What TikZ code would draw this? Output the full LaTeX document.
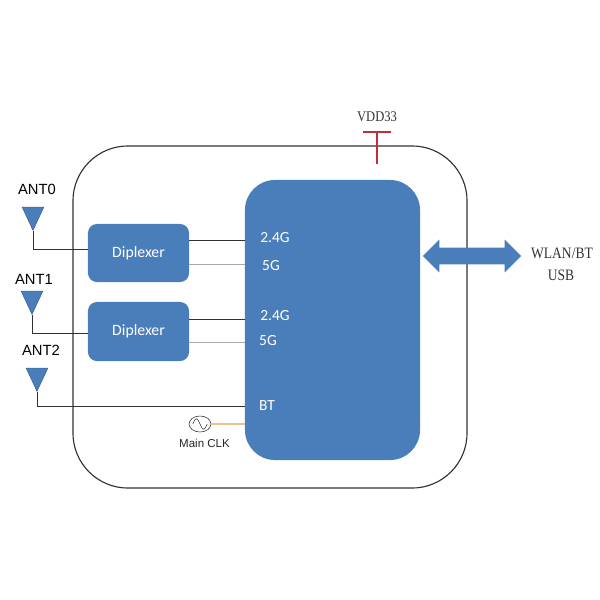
\documentclass[tikz,border=0pt]{standalone}
\usepackage{fontspec}
\setmainfont{Liberation Sans}
\newfontfamily\labelfont[FakeStretch=0.85]{Liberation Serif}
\newfontfamily\blockfont{Carlito}
\usetikzlibrary{positioning, shapes.geometric, shapes.arrows}
\definecolor{block}{RGB}{74,126,187}
\definecolor{wire}{RGB}{50,50,50}
\definecolor{softwire}{RGB}{170,170,170}
\definecolor{clkwire}{RGB}{232,196,140}
\definecolor{vddred}{RGB}{192,48,58}
\tikzset{
  bluebox/.style={rectangle, fill=block, text=white, font=\blockfont\fontsize{11.2}{13}\selectfont, inner sep=0pt},
  portlab/.style={text=white, font=\blockfont\fontsize{11}{12}\selectfont, inner sep=0pt},
  antenna/.style={isosceles triangle, isosceles triangle apex angle=50, shape border rotate=-90,
    fill=block, draw=block!80!black, thin, minimum height=0.58cm, inner sep=0pt, anchor=apex},
  antlab/.style={font=\fontsize{10.5}{12}\selectfont, inner sep=0pt},
  sidelab/.style={font=\labelfont\fontsize{10.5}{12}\selectfont, text=black!80, inner sep=0pt},
  bigside/.style={sidelab, font=\labelfont\fontsize{11.3}{12}\selectfont},
  feedwire/.style={wire, line width=0.7pt}
}
\begin{document}
\begin{tikzpicture}[x=0.025cm, y=-0.025cm]
  \useasboundingbox (0,0) rectangle (600,600);
  % module outline
  \node[draw=wire, thick, rounded corners=1.375cm, minimum width=9.85cm, minimum height=8.55cm, inner sep=0pt]
    (board) at (270,317) {};
  % chip and diplexers
  \node[bluebox, rounded corners=0.75cm, minimum width=4.375cm, minimum height=7cm] (chip) at (332.5,320) {};
  \node[bluebox, rounded corners=0.22cm, minimum width=2.525cm, minimum height=1.45cm] (dip0) at (138.5,253) {Diplexer};
  \node[bluebox, rounded corners=0.22cm, minimum width=2.525cm, minimum height=1.475cm] (dip1) at (138.5,331.5) {Diplexer};
  % antennas
  \foreach \i/\x/\y/\tx/\ty in {0/33/231/37/189, 1/32/315/34/279, 2/37/392/41/350} {
    \node[antenna] (ant\i) at (\x,\y) {};
    \node[antlab] (antlab\i) at (\tx,\ty) {ANT\i};
  }
  % antenna feeds
  \draw[feedwire] (ant0.apex) |- (88,249) coordinate (feed0);
  \draw[feedwire] (ant1.apex) |- (88,333) coordinate (feed1);
  \draw[feedwire] (ant2.apex) |- (245,406) coordinate (feed2);
  % diplexer outputs
  \foreach \n/\y/\c in {dip0/240/wire, dip0/264/softwire, dip1/319/wire, dip1/342/softwire} {
    \draw[\c, line width=0.7pt] (\n.east |- 0,\y) -- (chip.west |- 0,\y);
  }
  % port labels
  \foreach \x/\y/\lab/\nm in {275/238/2.4G/a, 271/266/5G/b, 275/316/2.4G/c, 268/341/5G/d, 267/406/BT/e} {
    \node[portlab] (port\nm) at (\x,\y) {\lab};
  }
  % clock
  \node[ellipse, draw=wire, minimum width=0.55cm, minimum height=0.4cm, inner sep=0pt] (osc) at (200,424) {};
  \draw[wire] ([xshift=-0.18cm]osc.center) .. controls +(3,-7) and +(-3,-7) .. (osc.center)
    .. controls +(3,7) and +(-3,7) .. ([xshift=0.18cm]osc.center);
  \draw[clkwire, thick] (osc.east) -- (chip.west |- osc.east);
  \node[font=\fontsize{8.2}{10}\selectfont, inner sep=0pt, text=black!85] (clklab) at (204.5,443) {Main CLK};
  % supply
  \node[sidelab] (vdd) at (377,117) {VDD33};
  \coordinate (vddbar) at (377,132);
  \coordinate (vddend) at (377,164);
  \draw[vddred, thick] (vddbar) -- (vddend);
  \draw[vddred, thick] ([xshift=-0.35cm]vddbar) -- ([xshift=0.35cm]vddbar);
  % host link
  \node[double arrow, fill=block, double arrow head extend=0.2cm, double arrow tip angle=90,
        minimum height=2.45cm, minimum width=0.8cm, inner xsep=0pt, inner ysep=0.2cm] (link) at (472,256) {};
  \node[bigside] (wlan) at (562,253) {WLAN/BT};
  \node[bigside] (usb) at (561,275) {USB};
\end{tikzpicture}
\end{document}
